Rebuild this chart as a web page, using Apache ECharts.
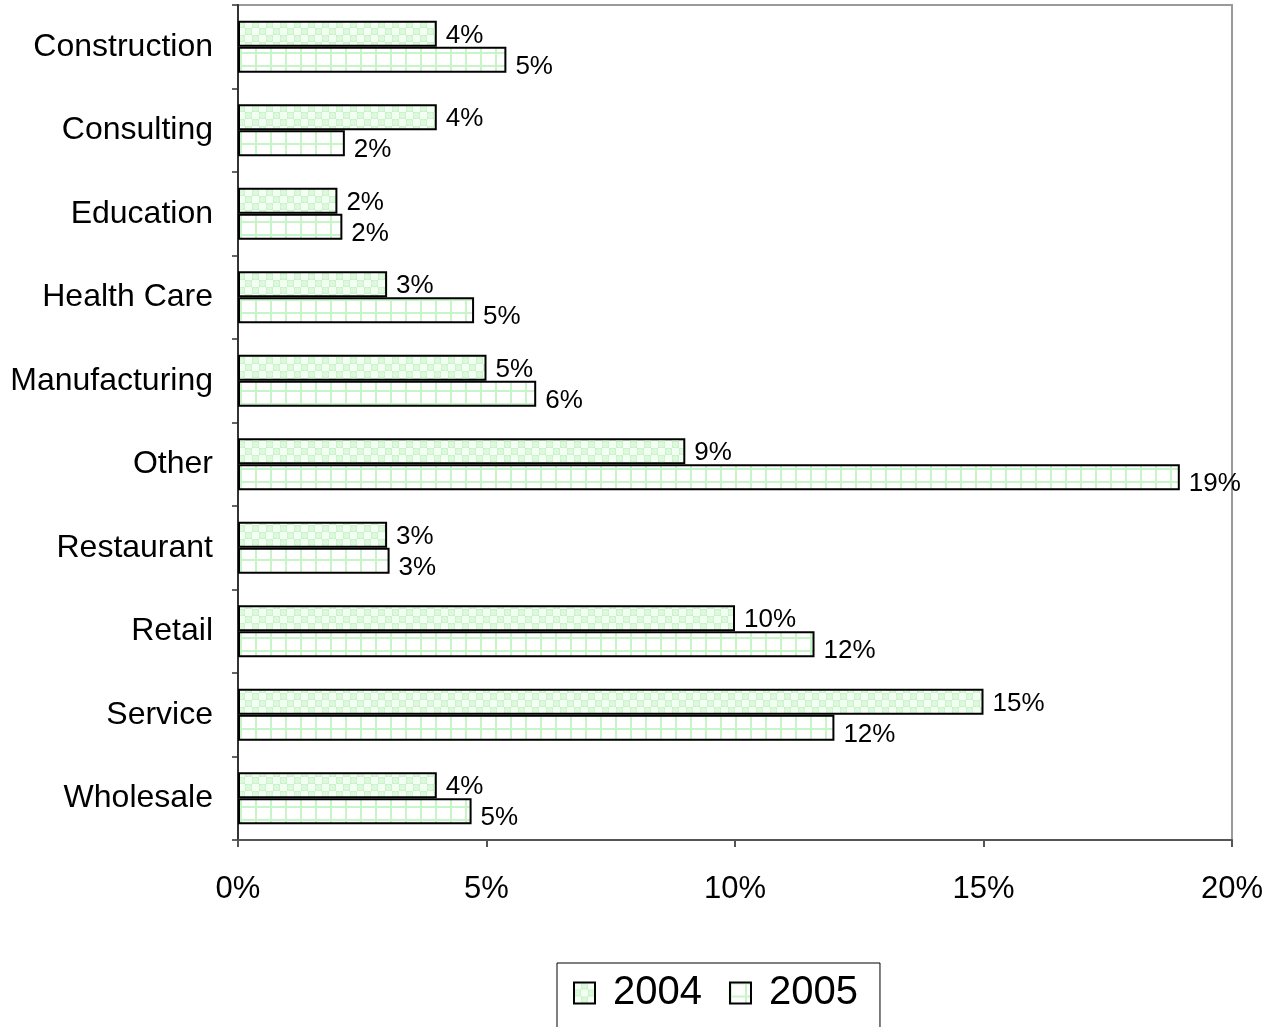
<!DOCTYPE html>
<html>
<head>
<meta charset="utf-8">
<script src="https://cdn.jsdelivr.net/npm/echarts@6/dist/echarts.min.js"></script>
<style>
  html, body { margin: 0; padding: 0; background: #fff; }
  #chart { width: 1277px; height: 1027px; }
</style>
</head>
<body>
<div id="chart"></div>
<script>
// data (percent)
var categories = ['Construction', 'Consulting', 'Education', 'Health Care', 'Manufacturing',
  'Other', 'Restaurant', 'Retail', 'Service', 'Wholesale'];
var values2004 = [4.0, 4.0, 2.0, 3.0, 5.0, 9.0, 3.0, 10.0, 15.0, 4.0];
var values2005 = [5.4, 2.15, 2.1, 4.75, 6.0, 18.95, 3.05, 11.6, 12.0, 4.7];
var xTicks = { min: 0, max: 20, interval: 5 };

var FONT = 'Liberation Sans, Arial, sans-serif';

// fill patterns like the old office-chart hatches
function dotsPattern() {
  var c = document.createElement('canvas');
  c.width = 14; c.height = 14;
  var g = c.getContext('2d');
  g.fillStyle = '#c6f3c6';
  g.fillRect(0, 0, 14, 14);
  g.fillStyle = '#f4fff4';
  g.fillRect(0, 0, 7, 7);
  g.fillRect(7, 7, 7, 7);
  g.fillStyle = '#ddf8dd';
  g.beginPath(); g.arc(10.5, 3.5, 3, 0, Math.PI * 2); g.fill();
  g.beginPath(); g.arc(3.5, 10.5, 3, 0, Math.PI * 2); g.fill();
  return c;
}
function gridPattern() {
  var c = document.createElement('canvas');
  c.width = 15; c.height = 13;
  var g = c.getContext('2d');
  g.fillStyle = '#ffffff';
  g.fillRect(0, 0, 15, 13);
  g.fillStyle = '#c8f5c8';
  g.fillRect(0, 0, 2, 13);
  g.fillRect(0, 0, 15, 2);
  return c;
}

var chart = echarts.init(document.getElementById('chart'));

function labelOpt(dy) {
  return {
    show: true,
    position: 'right',
    distance: 9,
    offset: [0, dy],
    color: '#000',
    fontFamily: FONT,
    fontSize: 26,
    formatter: function (p) { return Math.round(p.value) + '%'; }
  };
}

chart.setOption({
  animation: false,
  backgroundColor: '#fff',
  grid: {
    left: 238, right: 45, top: 5, bottom: 187,
    show: true, borderColor: '#9a9a9a', borderWidth: 2, backgroundColor: 'transparent'
  },
  legend: {
    left: 557, top: 963,
    padding: [10, 22, 20, 16],
    borderColor: '#000', borderWidth: 1,
    icon: 'rect',
    itemWidth: 21, itemHeight: 21, itemGap: 27,
    textStyle: { fontFamily: FONT, fontSize: 40, color: '#000', padding: [0, 0, 0, 13] },
    itemStyle: { borderColor: '#000', borderWidth: 2 },
    data: ['2004', '2005']
  },
  xAxis: {
    type: 'value',
    min: xTicks.min, max: xTicks.max, interval: xTicks.interval,
    splitLine: { show: false },
    axisLine: { show: true, lineStyle: { color: '#555', width: 2 } },
    axisTick: { show: true, length: 7, lineStyle: { color: '#555', width: 2 } },
    axisLabel: { formatter: '{value}%', fontFamily: FONT, fontSize: 31, color: '#000', margin: 34 }
  },
  yAxis: {
    type: 'category',
    data: categories,
    inverse: true,
    axisLine: { show: true, lineStyle: { color: '#333', width: 2 } },
    axisTick: { show: true, length: 6, lineStyle: { color: '#333', width: 1.5 } },
    axisLabel: { fontFamily: FONT, fontSize: 32, color: '#000', margin: 25, padding: [4, 0, 0, 0] }
  },
  series: [
    {
      name: '2004', type: 'bar', data: values2004,
      barWidth: 26, barGap: '0%',
      itemStyle: { color: { image: dotsPattern(), repeat: 'repeat' }, borderColor: '#000', borderWidth: 2 },
      label: labelOpt(2)
    },
    {
      name: '2005', type: 'bar', data: values2005,
      barWidth: 26, barGap: '0%',
      itemStyle: { color: { image: gridPattern(), repeat: 'repeat' }, borderColor: '#000', borderWidth: 2 },
      label: labelOpt(7)
    }
  ]
});
</script>
</body>
</html>
